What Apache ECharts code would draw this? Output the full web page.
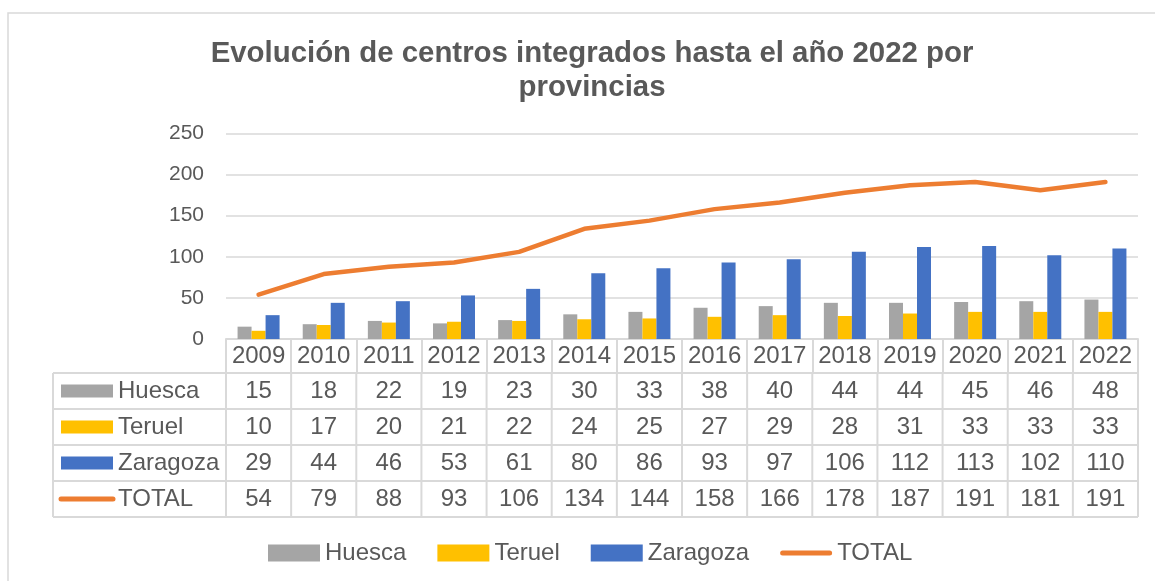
<!DOCTYPE html>
<html>
<head>
<meta charset="utf-8">
<script src="https://cdn.jsdelivr.net/npm/echarts@6/dist/echarts.min.js"></script>
<style>
  html, body { margin: 0; padding: 0; background: #fff; }
  #main { width: 1155px; height: 581px; }
</style>
</head>
<body>
<div id="main"></div>
<script>
// datos de la tabla
var years = ['2009', '2010', '2011', '2012', '2013', '2014', '2015', '2016', '2017', '2018', '2019', '2020', '2021', '2022'];
var huesca = [15, 18, 22, 19, 23, 30, 33, 38, 40, 44, 44, 45, 46, 48];
var teruel = [10, 17, 20, 21, 22, 24, 25, 27, 29, 28, 31, 33, 33, 33];
var zaragoza = [29, 44, 46, 53, 61, 80, 86, 93, 97, 106, 112, 113, 102, 110];
var total = [54, 79, 88, 93, 106, 134, 144, 158, 166, 178, 187, 191, 181, 191];
var yTicks = [0, 50, 100, 150, 200, 250];

window.onload = () => {
    var chartDom = document.getElementById('main');
    var myChart = echarts.init(chartDom);
    var font = 'Liberation Sans, Arial, sans-serif';
    var txt = '#595959';
    var lineCol = '#d9d9d9';
    var rows = [
        { name: 'Huesca', data: huesca, color: '#A5A5A5', type: 'bar' },
        { name: 'Teruel', data: teruel, color: '#FFC000', type: 'bar' },
        { name: 'Zaragoza', data: zaragoza, color: '#4472C4', type: 'bar' },
        { name: 'TOTAL', data: total, color: '#ED7D31', type: 'line' }
    ];
    var option = {
        animation: false,
        textStyle: { fontFamily: font },
        title: {
            text: 'Evolución de centros integrados hasta el año 2022 por\nprovincias',
            left: 587,
            top: 32,
            textAlign: 'center',
            textStyle: {
                fontFamily: font,
                fontSize: 29.4,
                fontWeight: 'bold',
                color: txt,
                lineHeight: 34
            }
        },
        legend: {
            left: 263,
            top: 536,
            itemWidth: 52,
            itemHeight: 17,
            itemGap: 31,
            textStyle: { fontFamily: font, fontSize: 24, color: txt },
            data: [
                { name: 'Huesca', icon: 'rect' },
                { name: 'Teruel', icon: 'rect' },
                { name: 'Zaragoza', icon: 'rect' },
                { name: 'TOTAL', icon: 'path://M2.5,6 L49.5,6 A2.5,2.5 0 0 1 49.5,11 L2.5,11 A2.5,2.5 0 0 1 2.5,6 Z M0,0 L0.01,0 L0.01,0.01 Z M52,17 L51.99,17 L51.99,16.99 Z' }
            ]
        },
        grid: {
            left: 226,
            right: 17,
            top: 133.5,
            bottom: 242
        },
        xAxis: {
            type: 'category',
            data: years,
            boundaryGap: true,
            axisLine: { show: true, lineStyle: { color: lineCol, width: 2 } },
            axisTick: { show: true, interval: 0, length: 34, lineStyle: { color: lineCol, width: 2 } },
            axisLabel: { interval: 0, color: txt, fontSize: 24, fontFamily: font, margin: 5 }
        },
        yAxis: {
            type: 'value',
            min: yTicks[0],
            max: yTicks[yTicks.length - 1],
            interval: 50,
            axisLine: { show: false },
            axisTick: { show: false },
            axisLabel: { color: txt, fontSize: 21, fontFamily: font, margin: 22 },
            splitLine: { lineStyle: { color: lineCol, width: 1.5 } }
        },
        series: rows.map(function (r) {
            if (r.type === 'bar') {
                return {
                    name: r.name,
                    type: 'bar',
                    data: r.data,
                    barWidth: 14,
                    barGap: '0%',
                    itemStyle: { color: r.color }
                };
            }
            return {
                name: r.name,
                type: 'line',
                data: r.data,
                symbol: 'none',
                itemStyle: { color: r.color },
                lineStyle: { color: r.color, width: 4.5, cap: 'round', join: 'round' }
            };
        })
    };
    myChart.setOption(option);

    // tabla de datos bajo el eje
    var x0 = myChart.convertToPixel({ xAxisIndex: 0 }, 0);
    var x1 = myChart.convertToPixel({ xAxisIndex: 0 }, 1);
    var colW = x1 - x0;
    var tableLeft = 53;
    var tableRight = x0 - colW / 2 + colW * years.length;
    var firstCol = x0 - colW / 2;
    var rowTop = myChart.convertToPixel({ yAxisIndex: 0 }, 0) + 34;
    var rowH = 36;
    var cellFont = '24px ' + font;
    var graphic = [];
    for (var k = 0; k <= rows.length; k++) {
        graphic.push({
            type: 'line',
            shape: { x1: tableLeft, y1: rowTop + k * rowH, x2: tableRight, y2: rowTop + k * rowH },
            style: { stroke: lineCol, lineWidth: 2 }
        });
    }
    var bottomY = rowTop + rows.length * rowH;
    graphic.push({
        type: 'line',
        shape: { x1: tableLeft, y1: rowTop, x2: tableLeft, y2: bottomY },
        style: { stroke: lineCol, lineWidth: 2 }
    });
    for (var c = 0; c <= years.length; c++) {
        var cx = firstCol + c * colW;
        graphic.push({
            type: 'line',
            shape: { x1: cx, y1: rowTop, x2: cx, y2: bottomY },
            style: { stroke: lineCol, lineWidth: 2 }
        });
    }
    rows.forEach(function (r, ri) {
        var cy = rowTop + ri * rowH + rowH / 2;
        if (r.type === 'bar') {
            graphic.push({
                type: 'rect',
                shape: { x: 61, y: cy - 6.5, width: 52, height: 13 },
                style: { fill: r.color }
            });
        } else {
            graphic.push({
                type: 'line',
                shape: { x1: 61, y1: cy, x2: 113, y2: cy },
                style: { stroke: r.color, lineWidth: 5, lineCap: 'round' }
            });
        }
        graphic.push({
            type: 'text',
            x: 118,
            y: cy,
            style: { text: r.name, fill: txt, font: cellFont, verticalAlign: 'middle', align: 'left' }
        });
        r.data.forEach(function (v, i) {
            graphic.push({
                type: 'text',
                x: myChart.convertToPixel({ xAxisIndex: 0 }, i),
                y: cy,
                style: { text: String(v), fill: txt, font: cellFont, verticalAlign: 'middle', align: 'center' }
            });
        });
    });
    // marco del gráfico
    graphic.push({
        type: 'rect',
        shape: { x: 8, y: 13, width: 1160, height: 600 },
        style: { fill: 'none', stroke: lineCol, lineWidth: 1.5 }
    });
    myChart.setOption({ graphic: graphic });
};
</script>
</body>
</html>
